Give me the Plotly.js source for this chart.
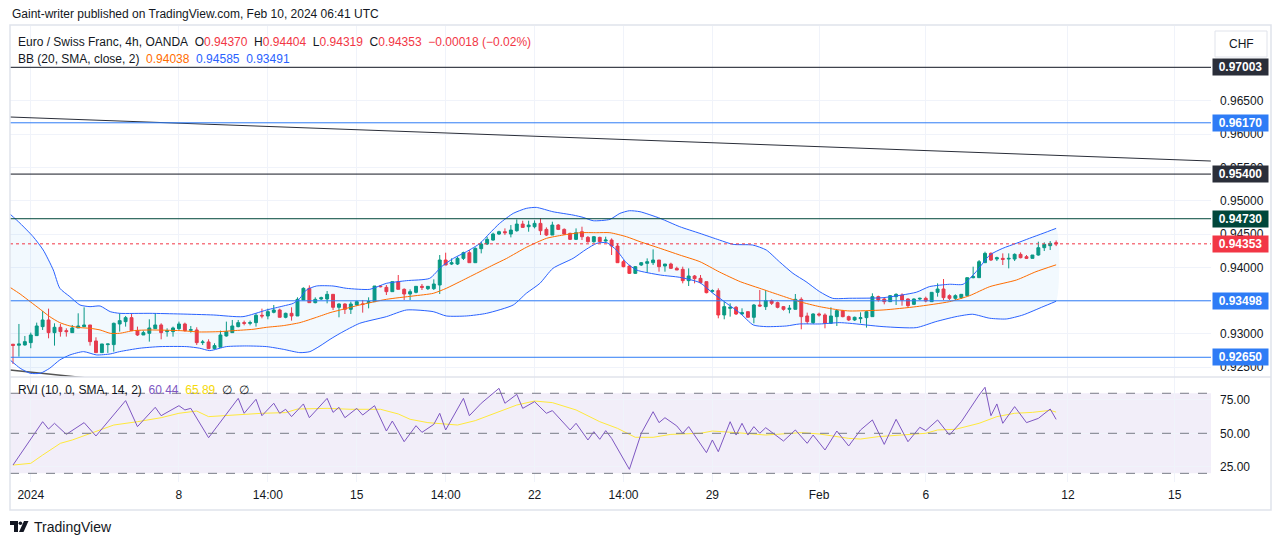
<!DOCTYPE html>
<html><head><meta charset="utf-8">
<script src="https://cdn.plot.ly/plotly-3.0.1.min.js"></script>
<style>html,body{margin:0;padding:0;background:#fff;overflow:hidden}#chart{width:1281px;height:545px}</style>
</head><body><div id="chart"></div>
<script>
// ---------- DATA ----------
const open = [0.92846,0.92831,0.92835,0.92870,0.92975,0.93110,0.93210,0.93020,0.93100,0.93050,
0.93020,0.93090,0.93110,0.93135,0.92895,0.92720,0.92840,0.92840,0.93150,0.93185,
0.93245,0.93050,0.92985,0.93010,0.93080,0.93135,0.93035,0.93035,0.93080,0.93150,
0.93055,0.93060,0.92870,0.92880,0.92780,0.92800,0.92970,0.93020,0.93110,0.93170,
0.93160,0.93170,0.93280,0.93270,0.93325,0.93360,0.93250,0.93310,0.93270,0.93510,
0.93685,0.93470,0.93525,0.93525,0.93595,0.93400,0.93450,0.93370,0.93435,0.93450,
0.93470,0.93485,0.93720,0.93700,0.93635,0.93785,0.93670,0.93600,0.93625,0.93715,
0.93680,0.93680,0.93735,0.94110,0.94050,0.94050,0.94135,0.94220,0.94070,0.94280,
0.94350,0.94410,0.94500,0.94535,0.94500,0.94550,0.94650,0.94610,0.94610,0.94660,
0.94570,0.94485,0.94635,0.94570,0.94510,0.94420,0.94535,0.94450,0.94385,0.94450,
0.94395,0.94410,0.94320,0.94085,0.94020,0.93910,0.94035,0.94060,0.94070,0.94110,
0.94020,0.94050,0.93985,0.93970,0.93800,0.93870,0.93835,0.93785,0.93640,0.93650,
0.93285,0.93385,0.93400,0.93300,0.93335,0.93250,0.93435,0.93410,0.93500,0.93470,
0.93410,0.93370,0.93370,0.93520,0.93270,0.93170,0.93300,0.93285,0.93160,0.93260,
0.93350,0.93260,0.93210,0.93230,0.93245,0.93260,0.93560,0.93525,0.93485,0.93560,
0.93585,0.93525,0.93445,0.93525,0.93535,0.93485,0.93625,0.93675,0.93575,0.93535,
0.93545,0.93575,0.93845,0.93845,0.94070,0.94210,0.94125,0.94135,0.94125,0.94125,
0.94195,0.94160,0.94135,0.94185,0.94295,0.94325,0.94370];
const high = [0.92850,0.93150,0.92970,0.93020,0.93170,0.93345,0.93380,0.93160,0.93150,0.93085,
0.93135,0.93310,0.93400,0.93135,0.92950,0.92850,0.92850,0.93170,0.93310,0.93270,
0.93300,0.93110,0.93050,0.93220,0.93310,0.93160,0.93085,0.93110,0.93185,0.93170,
0.93120,0.93100,0.92910,0.92920,0.92860,0.93050,0.93185,0.93210,0.93210,0.93200,
0.93200,0.93310,0.93380,0.93380,0.93435,0.93380,0.93320,0.93400,0.93550,0.93700,
0.93730,0.93550,0.93560,0.93645,0.93595,0.93460,0.93460,0.93485,0.93500,0.93510,
0.93550,0.93720,0.93735,0.93735,0.93785,0.93885,0.93685,0.93670,0.93720,0.93750,
0.93720,0.93820,0.94185,0.94220,0.94135,0.94160,0.94235,0.94260,0.94300,0.94385,
0.94460,0.94520,0.94550,0.94585,0.94635,0.94720,0.94700,0.94700,0.94705,0.94735,
0.94600,0.94685,0.94650,0.94585,0.94520,0.94585,0.94610,0.94470,0.94470,0.94460,
0.94460,0.94435,0.94360,0.94110,0.94035,0.94020,0.94080,0.94135,0.94270,0.94110,
0.94050,0.94070,0.94010,0.94010,0.93985,0.93885,0.93885,0.93785,0.93670,0.93685,
0.93485,0.93460,0.93420,0.93385,0.93335,0.93450,0.93660,0.93660,0.93520,0.93485,
0.93420,0.93435,0.93600,0.93550,0.93320,0.93310,0.93320,0.93310,0.93400,0.93370,
0.93360,0.93275,0.93260,0.93325,0.93345,0.93610,0.93575,0.93545,0.93585,0.93610,
0.93610,0.93535,0.93535,0.93545,0.93560,0.93625,0.93760,0.93825,0.93595,0.93595,
0.93595,0.93845,0.94010,0.94110,0.94235,0.94225,0.94160,0.94210,0.94210,0.94210,
0.94225,0.94185,0.94185,0.94385,0.94375,0.94395,0.94404];
const low = [0.92550,0.92660,0.92825,0.92786,0.92975,0.93060,0.92935,0.92825,0.92960,0.92960,
0.93020,0.93090,0.93110,0.92825,0.92720,0.92715,0.92715,0.92735,0.93035,0.93110,
0.93050,0.92970,0.92985,0.92885,0.93080,0.92920,0.92960,0.92960,0.93060,0.93035,
0.93020,0.92835,0.92835,0.92780,0.92770,0.92800,0.92960,0.93020,0.93100,0.93130,
0.93130,0.93110,0.93235,0.93220,0.93310,0.93250,0.93235,0.93200,0.93270,0.93510,
0.93470,0.93460,0.93510,0.93460,0.93360,0.93250,0.93300,0.93300,0.93420,0.93320,
0.93385,0.93485,0.93700,0.93585,0.93635,0.93670,0.93510,0.93510,0.93610,0.93660,
0.93660,0.93660,0.93600,0.94035,0.94035,0.94035,0.94110,0.94070,0.94070,0.94210,
0.94335,0.94400,0.94485,0.94485,0.94450,0.94535,0.94600,0.94535,0.94585,0.94485,
0.94470,0.94485,0.94560,0.94485,0.94410,0.94410,0.94410,0.94370,0.94370,0.94370,
0.94385,0.94185,0.94070,0.94000,0.93900,0.93900,0.94020,0.93920,0.94035,0.93935,
0.93935,0.93975,0.93960,0.93760,0.93720,0.93760,0.93760,0.93610,0.93620,0.93235,
0.93220,0.93260,0.93285,0.93285,0.93250,0.93160,0.93410,0.93360,0.93435,0.93385,
0.93350,0.93310,0.93370,0.93070,0.93150,0.93150,0.93260,0.93085,0.93150,0.93120,
0.93250,0.93195,0.93195,0.93160,0.93095,0.93260,0.93485,0.93445,0.93480,0.93435,
0.93425,0.93395,0.93435,0.93510,0.93475,0.93485,0.93560,0.93510,0.93510,0.93510,
0.93525,0.93575,0.93835,0.93845,0.94070,0.94095,0.94095,0.94035,0.93985,0.94095,
0.94135,0.94125,0.94135,0.94175,0.94245,0.94260,0.94319];
const close = [0.92828,0.92850,0.92885,0.92985,0.93120,0.93210,0.93020,0.93100,0.93035,0.93035,
0.93090,0.93120,0.93135,0.92885,0.92720,0.92850,0.92850,0.93160,0.93200,0.93245,
0.93050,0.92985,0.93020,0.93090,0.93135,0.93020,0.93050,0.93090,0.93150,0.93050,
0.93065,0.92870,0.92880,0.92780,0.92825,0.92985,0.93035,0.93120,0.93170,0.93160,
0.93170,0.93280,0.93270,0.93335,0.93360,0.93250,0.93310,0.93270,0.93520,0.93685,
0.93470,0.93520,0.93545,0.93595,0.93400,0.93450,0.93370,0.93450,0.93485,0.93445,
0.93485,0.93720,0.93710,0.93635,0.93785,0.93670,0.93600,0.93635,0.93715,0.93700,
0.93715,0.93750,0.94110,0.94035,0.94070,0.94135,0.94220,0.94070,0.94285,0.94350,
0.94420,0.94500,0.94535,0.94520,0.94560,0.94650,0.94600,0.94635,0.94660,0.94550,
0.94485,0.94635,0.94570,0.94500,0.94420,0.94520,0.94460,0.94385,0.94460,0.94385,
0.94410,0.94320,0.94070,0.94010,0.93910,0.94010,0.94070,0.94085,0.94110,0.94010,
0.94050,0.93985,0.93960,0.93800,0.93870,0.93830,0.93770,0.93620,0.93650,0.93285,
0.93410,0.93400,0.93300,0.93320,0.93250,0.93435,0.93420,0.93500,0.93460,0.93400,
0.93370,0.93385,0.93520,0.93260,0.93185,0.93300,0.93285,0.93160,0.93270,0.93350,
0.93260,0.93210,0.93250,0.93245,0.93335,0.93560,0.93510,0.93485,0.93575,0.93595,
0.93510,0.93425,0.93525,0.93535,0.93495,0.93625,0.93675,0.93545,0.93535,0.93575,
0.93595,0.93845,0.93860,0.94085,0.94210,0.94110,0.94145,0.94120,0.94135,0.94195,
0.94145,0.94135,0.94185,0.94295,0.94345,0.94360,0.94353];

// Bollinger Bands (20, SMA, close, 2) at bar positions
const bbUpperBar = [-0.5,1.2,3.4,5.1,6.8,7.9,9.6,11.3,13,14.7,16.4,18,23.1,28.2,33.8,38.8,42.8,45.6,47.3,48.4,49.5,51.2,54,56.3,60.2,63,66.4,70.3,72.3,74.3,76.5,78.8,80.4,82.1,84.4,86.6,88.3,91.1,94.5,96.2,97.9,100.7,102.4,104,105.8,109.2,112.5,115.9,119.2,121.5,124.8,127.1,129.3,131.6,133.8,136.1,138.3,141.2,146.8,152.4,154.6,158,160.3,162.5,164.8,167,169.3,171.5,173.8,176];
const bbUpper = [0.9480,0.94661,0.9446,0.9426,0.9396,0.93686,0.9356,0.93435,0.9341,0.9342,0.93335,0.9331,0.9331,0.9330,0.93285,0.9326,0.9336,0.9342,0.9346,0.93535,0.9366,0.9372,0.9372,0.93685,0.9367,0.9376,0.9380,0.93835,0.9401,0.94135,0.94235,0.9436,0.9451,0.9466,0.9481,0.94885,0.9490,0.94835,0.94785,0.9475,0.9470,0.9472,0.9481,0.9485,0.94835,0.94735,0.9461,0.9451,0.9441,0.94345,0.94335,0.9426,0.94085,0.9391,0.93785,0.93635,0.93535,0.93536,0.93545,0.93626,0.9371,0.93746,0.93746,0.93935,0.94185,0.94286,0.94361,0.94436,0.94511,0.94585];
const bbBasisBar = [-0.5,1.2,2.9,4.6,6.2,7.9,9.6,11.3,13,14.7,16.4,18,20.3,23.1,28.2,31.5,34.9,37.2,40.5,42.8,45.6,48.4,51.2,53.5,55.2,58.5,63,67.5,70.9,73.1,75.4,78.2,81,83.3,86.6,90,92.8,95.7,98.5,100.7,103.5,105.8,109.2,112.5,115.9,119.2,122.7,126,129.3,132.7,136.1,139.4,141.2,146.8,152.4,158,161.4,164.8,169.3,172.6,176];
const bbBasis = [0.9370,0.9360,0.93485,0.9337,0.9326,0.9317,0.9312,0.93095,0.93085,0.9306,0.9301,0.9301,0.9305,0.9306,0.9305,0.9303,0.93035,0.9305,0.9307,0.9310,0.93125,0.9317,0.9325,0.9332,0.9336,0.93435,0.9352,0.9357,0.9361,0.93685,0.93785,0.9391,0.94035,0.94135,0.9430,0.94435,0.94485,0.9452,0.9452,0.9452,0.9446,0.94385,0.94285,0.94185,0.94085,0.9393,0.93785,0.93685,0.93585,0.93485,0.9341,0.9336,0.93345,0.9336,0.9341,0.93485,0.93575,0.9371,0.9381,0.93935,0.94038];
const bbLowerBar = [-0.5,1.2,2.9,4.6,6.2,7.9,9.6,11.9,14.1,16.4,18,21.4,24.8,29.3,31.5,33.2,36,39.4,42.8,45.6,48.4,50.1,51.8,53.5,55.2,58.5,63,66.4,70.9,73.1,76.5,79.9,84.4,86.6,88.9,91.1,94.5,96.7,98.5,100.2,101.8,103.5,105.2,109.2,112.5,115.9,118.1,120.4,122.7,124.9,127.1,130.5,132.7,136.1,139.4,141.2,146.8,152.4,155.7,159.1,161.9,164.8,167.6,170.4,173.8,176];
const bbLower = [0.9261,0.92486,0.9241,0.9241,0.92486,0.9261,0.92685,0.92735,0.92685,0.9270,0.92735,0.92786,0.9281,0.9281,0.92786,0.9275,0.9281,0.9282,0.9281,0.9277,0.9272,0.92735,0.9282,0.9292,0.9301,0.9316,0.9326,0.9336,0.93335,0.9327,0.9327,0.9331,0.93435,0.9361,0.9376,0.93985,0.94135,0.9427,0.9436,0.9437,0.9426,0.9407,0.9396,0.93885,0.9385,0.9377,0.9361,0.9346,0.9331,0.93135,0.9311,0.9312,0.9315,0.9315,0.9317,0.9316,0.9311,0.93095,0.93185,0.9326,0.93296,0.93236,0.93225,0.93285,0.9341,0.93491];

// RVI (10, 0, SMA, 14, 2) and its signal line
const rviBar = [0,5,6,7,9,12,14,19,21,24,25,28,29,30,33,38,39,41,42,44,45,46,47,49,50,53,54,55,56,58,59,61,63,64,66,68,69,71,72,73,76,77,79,82,83,85,86,88,90,91,94,95,97,98,99,100,101,104,106,108,109,110,112,113,114,117,118,119,121,122,123,124,125,126,127,130,132,134,135,137,139,141,143,145,147,149,151,153,154,156,158,160,163,164,165,166,167,169,171,173,175,176];
const rvi = [26.2,58.7,53.2,57.5,49.2,58,48,74.5,55,69.5,63.2,70.7,67.5,68.7,46.7,76.2,65,75.5,63.2,72.5,65,68,62.5,72,61.7,76.2,65.7,69.5,61.7,68.7,63.7,70.7,51.7,59.2,43.7,55.7,50.7,56.7,65,52.5,76.2,63.2,72.5,83.7,72.5,79.2,68.7,73.7,65,67,52.5,57.5,45,51.2,45.5,52,46.2,23,50,66.2,58,61.7,55.5,50,55,35.5,45,36.2,58.7,48.7,57.5,48.7,55,50,54.2,44.2,52.5,42.5,48.7,37.5,51.7,40.5,52.5,60,41.7,60.5,43.7,54.5,52,60,48.7,58.7,78.7,84.5,63.2,72,57.5,70,58,61.2,68.2,60.44];
const sigBar = [0,3,5,8,10,14,17,21,25,28,31,33,37,42,46,48,53,57,62,65,67,70,75,78,82,85,88,91,95,99,102,105,108,111,116,118,122,127,133,136,141,143,146,150,154,156,159,163,166,169,172,175,176];
const sig = [26.2,27.5,33.7,42.5,45,51.2,56.2,58.7,61.7,65,66.7,62.5,63.7,65,65.5,68.2,68.7,68,68,64.5,60.5,58,56.2,59.5,66.2,71.2,74.2,73,67.5,58.7,53.7,47,47,49.2,50,51.7,50.5,48.7,50.5,49.5,46.2,45.7,47.5,48.7,50,52.5,53,57.5,62.5,65,65.7,67.2,65.89];

// Horizontal levels drawn on the chart
const levels = [0.97003,0.96170,0.95400,0.94730,0.93498,0.92650];
const lastPrice = 0.94353;
// Trend lines (bar, price)
const trendBar = [-0.5, 202.1];
const trendPrice = [0.96257, 0.95596];
const lowTrendBar = [-0.5, 60];
const lowTrendPrice = [0.92459, 0.91900];

// Time axis labels
const tickBars = [3,28,43,58,73,88,103,118,136,154,178,196];
const tickLabels = ['2024','8','14:00','15','14:00','22','14:00','29','Feb','6','12','15'];
const priceTicks = [0.925,0.93,0.94,0.945,0.95,0.955,0.96,0.965];
const gridPrices = [0.935,0.97];
const rviTicks = [25,50,75];

// ---------- STYLE / LAYOUT ----------
const FONT = 'Liberation Sans, Arial, sans-serif';
const TXT = '#131722';
const UP = '#089981', DN = '#F23645';
const levelColors = ['#131722','#2E7CF6','#131722','#00473A','#2E7CF6','#2E7CF6'];
const levelBoxColors = ['#2A2E39','#2E7CF6','#2A2E39','#00473A','#2E7CF6','#2E7CF6'];
const Lpx=10, Rpx=1211, Tpx=26, Bpx=482, SEP=377;
const px = p => (p - Lpx)/(Rpx - Lpx);
const py = p => (Bpx - p)/(Bpx - Tpx);
const split = py(SEP);

const bars = open.map((_, i) => i);

const traces = [
  {type:'scatter', mode:'lines', xaxis:'x', yaxis:'y',
   x: bbUpperBar.concat(bbLowerBar.slice().reverse()),
   y: bbUpper.concat(bbLower.slice().reverse()),
   fill:'toself', fillcolor:'rgba(33,150,243,0.06)', line:{width:0, shape:'spline', smoothing:0.6}, hoverinfo:'skip'},
  {type:'scatter', mode:'lines', x:trendBar, y:trendPrice, xaxis:'x', yaxis:'y', line:{color:'#2A2E39', width:1}, hoverinfo:'skip'},
  {type:'scatter', mode:'lines', x:lowTrendBar, y:lowTrendPrice, xaxis:'x', yaxis:'y', line:{color:'#555', width:1.5}, hoverinfo:'skip'},
  {type:'scatter', mode:'lines', x:bbUpperBar, y:bbUpper, xaxis:'x', yaxis:'y', line:{color:'#2962FF', width:1, shape:'spline', smoothing:0.6}, hoverinfo:'skip'},
  {type:'scatter', mode:'lines', x:bbLowerBar, y:bbLower, xaxis:'x', yaxis:'y', line:{color:'#2962FF', width:1, shape:'spline', smoothing:0.6}, hoverinfo:'skip'},
  {type:'scatter', mode:'lines', x:bbBasisBar, y:bbBasis, xaxis:'x', yaxis:'y', line:{color:'#FF6D00', width:1, shape:'spline', smoothing:0.6}, hoverinfo:'skip'},
  {type:'candlestick', x:bars, open:open, high:high, low:low, close:close, xaxis:'x', yaxis:'y',
   increasing:{line:{color:UP, width:1}, fillcolor:UP},
   decreasing:{line:{color:DN, width:1}, fillcolor:DN},
   whiskerwidth:0, hoverinfo:'skip'},
  {type:'scatter', mode:'lines', x:sigBar, y:sig, xaxis:'x', yaxis:'y2', line:{color:'#FFE93B', width:1}, hoverinfo:'skip'},
  {type:'scatter', mode:'lines', x:rviBar, y:rvi, xaxis:'x', yaxis:'y2', line:{color:'#7E57C2', width:1}, hoverinfo:'skip'}
];

const shapes = [];
// hidden-label grid lines
gridPrices.forEach(v => shapes.push({type:'line', xref:'paper', yref:'y', x0:0, x1:1, y0:v, y1:v, line:{color:'#F0F3FA', width:1}, layer:'below'}));
// RVI band
shapes.push({type:'rect', xref:'paper', yref:'y2', x0:0, x1:1, y0:20, y1:80, fillcolor:'rgba(126,87,194,0.1)', line:{width:0}, layer:'below'});
[80,50,20].forEach(v => shapes.push({type:'line', xref:'paper', yref:'y2', x0:0, x1:1, y0:v, y1:v, line:{color:'#787B86', width:1, dash:'dash'}}));
// horizontal levels
levels.forEach((v,i) => shapes.push({type:'line', xref:'paper', yref:'y', x0:0, x1:1, y0:v, y1:v, line:{color:levelColors[i], width:1}}));
shapes.push({type:'line', xref:'paper', yref:'y', x0:0, x1:1, y0:lastPrice, y1:lastPrice, line:{color:DN, width:1, dash:'dot'}});
// pane separator and frame
shapes.push({type:'line', xref:'paper', yref:'paper', x0:0, x1:px(1271), y0:split, y1:split, line:{color:'#E0E3EB', width:1.5}});
shapes.push({type:'rect', xref:'paper', yref:'paper', x0:0, x1:px(1271), y0:py(510), y1:py(25), line:{color:'#E0E3EB', width:1.5}, fillcolor:'rgba(0,0,0,0)'});
// CHF button
shapes.push({type:'rect', xref:'paper', yref:'paper', x0:px(1215), x1:px(1267), y0:py(57), y1:py(31), line:{color:'#E0E3EB', width:1}, fillcolor:'#fff'});
// TradingView logo
shapes.push({type:'path', xref:'paper', yref:'paper', fillcolor:TXT, line:{width:0},
  path:`M${px(10)},${py(521)} L${px(18)},${py(521)} L${px(18)},${py(532)} L${px(14)},${py(532)} L${px(14)},${py(525)} L${px(10)},${py(525)} Z`});
shapes.push({type:'circle', xref:'paper', yref:'paper', fillcolor:TXT, line:{width:0}, x0:px(18.6), x1:px(22.2), y0:py(525), y1:py(521.4)});
shapes.push({type:'path', xref:'paper', yref:'paper', fillcolor:TXT, line:{width:0},
  path:`M${px(24)},${py(521)} L${px(28.5)},${py(521)} L${px(23.5)},${py(532)} L${px(19)},${py(532)} Z`});

const ann = [];
const A = (x, y, text, opts={}) => Object.assign({xref:'paper', yref:'paper', x:px(x), y:py(y), xanchor:'left', yanchor:'middle', showarrow:false, text:text, font:{family:FONT, size:12, color:TXT}}, opts);
const sp = '\u00a0\u00a0';
const c = (col, t) => `<span style="color:${col}">${t}</span>`;
ann.push(A(10, 14, 'Gaint-writer published on TradingView.com, Feb 10, 2024 06:41 UTC'));
ann.push(A(16, 42, `Euro / Swiss Franc, 4h, OANDA${sp}O${c(DN,'0.94370')}${sp}H${c(DN,'0.94404')}${sp}L${c(DN,'0.94319')}${sp}C${c(DN,'0.94353')}${sp}${c(DN,'\u22120.00018 (\u22120.02%)')}`));
ann.push(A(16, 59, `BB (20, SMA, close, 2)${sp}${c('#FF6D00','0.94038')}${sp}${c('#2962FF','0.94585')}${sp}${c('#2962FF','0.93491')}`));
ann.push(A(16, 390, `RVI (10, 0, SMA, 14, 2)${sp}${c('#7E57C2','60.44')}${sp}${c('#F5D90A','65.89')}${sp}\u2205${sp}\u2205`));
ann.push(A(1241, 44, 'CHF', {xanchor:'center'}));
ann.push(A(32, 527, 'TradingView', {font:{family:FONT, size:14, color:TXT}}));
const box = (v, col) => ({xref:'paper', yref:'y', x:1, y:v, xanchor:'left', yanchor:'middle', xshift:1, showarrow:false,
  text:'<b>'+v.toFixed(5)+'</b>', bgcolor:col, width:55, height:16, borderpad:0, align:'center',
  font:{family:FONT, size:12, color:'#fff'}});
levels.forEach((v,i) => ann.push(box(v, levelBoxColors[i])));
ann.push(box(lastPrice, DN));

const layout = {
  width:1281, height:545, margin:{l:Lpx, r:1281-Rpx, t:Tpx, b:545-Bpx},
  paper_bgcolor:'#fff', plot_bgcolor:'#fff', showlegend:false, hovermode:false,
  font:{family:FONT, size:12, color:TXT},
  xaxis:{anchor:'y2', range:[-0.506, 202.13], tickvals:tickBars, ticktext:tickLabels, showgrid:true, gridcolor:'#F0F3FA',
    zeroline:false, showline:false, ticks:'', ticklabelstandoff:4, rangeslider:{visible:false}, fixedrange:true,
    tickfont:{family:FONT, size:12, color:TXT}},
  yaxis:{domain:[split,1], anchor:'x', side:'right', range:[0.92354, 0.97623], tickvals:priceTicks, tickformat:'.5f',
    showgrid:true, gridcolor:'#F0F3FA', zeroline:false, showline:false, ticks:'', ticklabelstandoff:8,
    tickfont:{family:FONT, size:12, color:TXT}},
  yaxis2:{domain:[0,split], anchor:'x', side:'right', range:[13.5, 92.2], tickvals:rviTicks, tickformat:'.2f',
    showgrid:true, gridcolor:'#F0F3FA', zeroline:false, showline:false, ticks:'', ticklabelstandoff:8,
    tickfont:{family:FONT, size:12, color:TXT}},
  shapes:shapes, annotations:ann
};
Plotly.newPlot('chart', traces, layout, {staticPlot:true, displayModeBar:false});
</script></body></html>
